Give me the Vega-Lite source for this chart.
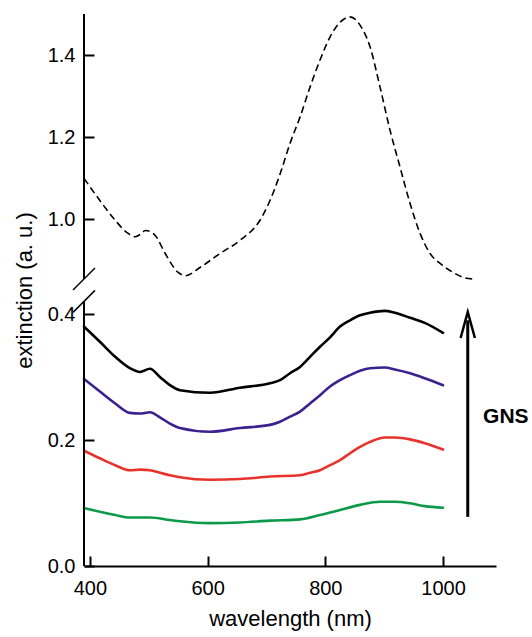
{
  "$schema": "https://vega.github.io/schema/vega-lite/v6.json",
  "autosize": {"type": "none"},
  "padding": {"left": 84, "top": 14, "right": 36, "bottom": 71},
  "width": 412,
  "height": 552,
  "config": {"view": {"stroke": null}, "font": "Liberation Sans"},
  "datasets": {
    "spectra": [
      {"series": "ref", "wl": 390, "ext": 1.10},
      {"series": "ref", "wl": 417, "ext": 1.046},
      {"series": "ref", "wl": 443, "ext": 0.998},
      {"series": "ref", "wl": 463, "ext": 0.968},
      {"series": "ref", "wl": 477, "ext": 0.958},
      {"series": "ref", "wl": 487, "ext": 0.965},
      {"series": "ref", "wl": 494, "ext": 0.973},
      {"series": "ref", "wl": 503, "ext": 0.970},
      {"series": "ref", "wl": 511, "ext": 0.961},
      {"series": "ref", "wl": 528, "ext": 0.917},
      {"series": "ref", "wl": 550, "ext": 0.871},
      {"series": "ref", "wl": 562, "ext": 0.863},
      {"series": "ref", "wl": 587, "ext": 0.883},
      {"series": "ref", "wl": 621, "ext": 0.917},
      {"series": "ref", "wl": 655, "ext": 0.949},
      {"series": "ref", "wl": 689, "ext": 0.998},
      {"series": "ref", "wl": 706, "ext": 1.046},
      {"series": "ref", "wl": 723, "ext": 1.11},
      {"series": "ref", "wl": 740, "ext": 1.185},
      {"series": "ref", "wl": 757, "ext": 1.249},
      {"series": "ref", "wl": 774, "ext": 1.322},
      {"series": "ref", "wl": 791, "ext": 1.388},
      {"series": "ref", "wl": 808, "ext": 1.444},
      {"series": "ref", "wl": 825, "ext": 1.48},
      {"series": "ref", "wl": 842, "ext": 1.493},
      {"series": "ref", "wl": 859, "ext": 1.473},
      {"series": "ref", "wl": 876, "ext": 1.42},
      {"series": "ref", "wl": 893, "ext": 1.322},
      {"series": "ref", "wl": 910, "ext": 1.217},
      {"series": "ref", "wl": 927, "ext": 1.127},
      {"series": "ref", "wl": 944, "ext": 1.039},
      {"series": "ref", "wl": 961, "ext": 0.966},
      {"series": "ref", "wl": 978, "ext": 0.917},
      {"series": "ref", "wl": 995, "ext": 0.893},
      {"series": "ref", "wl": 1017, "ext": 0.871},
      {"series": "ref", "wl": 1034, "ext": 0.859},
      {"series": "ref", "wl": 1051, "ext": 0.854},

      {"series": "black", "wl": 390, "ext": 0.380},
      {"series": "black", "wl": 417, "ext": 0.356},
      {"series": "black", "wl": 443, "ext": 0.332},
      {"series": "black", "wl": 468, "ext": 0.314},
      {"series": "black", "wl": 485, "ext": 0.308},
      {"series": "black", "wl": 502, "ext": 0.313},
      {"series": "black", "wl": 519, "ext": 0.300},
      {"series": "black", "wl": 536, "ext": 0.287},
      {"series": "black", "wl": 553, "ext": 0.279},
      {"series": "black", "wl": 604, "ext": 0.275},
      {"series": "black", "wl": 655, "ext": 0.283},
      {"series": "black", "wl": 706, "ext": 0.290},
      {"series": "black", "wl": 723, "ext": 0.295},
      {"series": "black", "wl": 740, "ext": 0.306},
      {"series": "black", "wl": 757, "ext": 0.316},
      {"series": "black", "wl": 774, "ext": 0.332},
      {"series": "black", "wl": 791, "ext": 0.348},
      {"series": "black", "wl": 808, "ext": 0.363},
      {"series": "black", "wl": 825, "ext": 0.380},
      {"series": "black", "wl": 842, "ext": 0.390},
      {"series": "black", "wl": 859, "ext": 0.398},
      {"series": "black", "wl": 876, "ext": 0.402},
      {"series": "black", "wl": 901, "ext": 0.405},
      {"series": "black", "wl": 918, "ext": 0.402},
      {"series": "black", "wl": 944, "ext": 0.394},
      {"series": "black", "wl": 969, "ext": 0.386},
      {"series": "black", "wl": 1000, "ext": 0.370},

      {"series": "purple", "wl": 390, "ext": 0.297},
      {"series": "purple", "wl": 417, "ext": 0.277},
      {"series": "purple", "wl": 443, "ext": 0.258},
      {"series": "purple", "wl": 468, "ext": 0.243},
      {"series": "purple", "wl": 485, "ext": 0.242},
      {"series": "purple", "wl": 502, "ext": 0.244},
      {"series": "purple", "wl": 519, "ext": 0.236},
      {"series": "purple", "wl": 536, "ext": 0.226},
      {"series": "purple", "wl": 553, "ext": 0.219},
      {"series": "purple", "wl": 604, "ext": 0.213},
      {"series": "purple", "wl": 655, "ext": 0.219},
      {"series": "purple", "wl": 706, "ext": 0.224},
      {"series": "purple", "wl": 723, "ext": 0.229},
      {"series": "purple", "wl": 740, "ext": 0.237},
      {"series": "purple", "wl": 757, "ext": 0.245},
      {"series": "purple", "wl": 774, "ext": 0.258},
      {"series": "purple", "wl": 791, "ext": 0.271},
      {"series": "purple", "wl": 808, "ext": 0.285},
      {"series": "purple", "wl": 825, "ext": 0.295},
      {"series": "purple", "wl": 842, "ext": 0.303},
      {"series": "purple", "wl": 859, "ext": 0.310},
      {"series": "purple", "wl": 876, "ext": 0.314},
      {"series": "purple", "wl": 901, "ext": 0.315},
      {"series": "purple", "wl": 918, "ext": 0.312},
      {"series": "purple", "wl": 944, "ext": 0.306},
      {"series": "purple", "wl": 969, "ext": 0.298},
      {"series": "purple", "wl": 1000, "ext": 0.287},

      {"series": "red", "wl": 390, "ext": 0.183},
      {"series": "red", "wl": 417, "ext": 0.171},
      {"series": "red", "wl": 443, "ext": 0.160},
      {"series": "red", "wl": 468, "ext": 0.152},
      {"series": "red", "wl": 485, "ext": 0.153},
      {"series": "red", "wl": 502, "ext": 0.152},
      {"series": "red", "wl": 519, "ext": 0.148},
      {"series": "red", "wl": 536, "ext": 0.144},
      {"series": "red", "wl": 553, "ext": 0.141},
      {"series": "red", "wl": 604, "ext": 0.137},
      {"series": "red", "wl": 655, "ext": 0.138},
      {"series": "red", "wl": 706, "ext": 0.142},
      {"series": "red", "wl": 757, "ext": 0.144},
      {"series": "red", "wl": 774, "ext": 0.148},
      {"series": "red", "wl": 791, "ext": 0.152},
      {"series": "red", "wl": 808, "ext": 0.160},
      {"series": "red", "wl": 825, "ext": 0.168},
      {"series": "red", "wl": 842, "ext": 0.179},
      {"series": "red", "wl": 859, "ext": 0.189},
      {"series": "red", "wl": 876, "ext": 0.197},
      {"series": "red", "wl": 901, "ext": 0.204},
      {"series": "red", "wl": 918, "ext": 0.204},
      {"series": "red", "wl": 944, "ext": 0.201},
      {"series": "red", "wl": 969, "ext": 0.195},
      {"series": "red", "wl": 1000, "ext": 0.185},

      {"series": "green", "wl": 390, "ext": 0.092},
      {"series": "green", "wl": 417, "ext": 0.086},
      {"series": "green", "wl": 443, "ext": 0.081},
      {"series": "green", "wl": 468, "ext": 0.077},
      {"series": "green", "wl": 502, "ext": 0.077},
      {"series": "green", "wl": 536, "ext": 0.073},
      {"series": "green", "wl": 553, "ext": 0.071},
      {"series": "green", "wl": 604, "ext": 0.068},
      {"series": "green", "wl": 655, "ext": 0.069},
      {"series": "green", "wl": 706, "ext": 0.072},
      {"series": "green", "wl": 757, "ext": 0.074},
      {"series": "green", "wl": 791, "ext": 0.081},
      {"series": "green", "wl": 825, "ext": 0.089},
      {"series": "green", "wl": 859, "ext": 0.097},
      {"series": "green", "wl": 893, "ext": 0.102},
      {"series": "green", "wl": 918, "ext": 0.102},
      {"series": "green", "wl": 944, "ext": 0.0995},
      {"series": "green", "wl": 969, "ext": 0.095},
      {"series": "green", "wl": 1000, "ext": 0.0925}
    ]
  },
  "data": {"name": "spectra"},
  "layer": [
    {
      "transform": [{"filter": "datum.series !== 'ref'"}],
      "mark": {"type": "line", "interpolate": "monotone", "strokeCap": "round", "strokeJoin": "round"},
      "encoding": {
        "x": {
          "field": "wl", "type": "quantitative",
          "scale": {"domain": [390, 1090], "nice": false, "zero": false},
          "axis": {
            "title": "wavelength (nm)", "values": [400, 600, 800, 1000], "format": "d",
            "tickSize": -10, "tickWidth": 2, "tickColor": "black",
            "domainColor": "black", "domainWidth": 2,
            "labelFontSize": 20, "labelColor": "black", "labelPadding": 22,
            "titleFontSize": 22, "titleFontWeight": "normal", "titleColor": "black", "titlePadding": 10,
            "grid": false
          }
        },
        "y": {
          "field": "ext", "type": "quantitative",
          "scale": {"domain": [0, 0.42, 0.855, 1.5], "range": [552, 287.4, 265, 0], "nice": false, "zero": false},
          "axis": {
            "title": "extinction (a. u.)", "values": [0, 0.2, 0.4, 1.0, 1.2, 1.4], "format": ".1f",
            "domain": false,
            "tickSize": -10, "tickWidth": 2, "tickColor": "black",
            "labelFontSize": 20, "labelColor": "black", "labelPadding": 19,
            "titleFontSize": 22, "titleFontWeight": "normal", "titleColor": "black",
            "titleAngle": 270, "titleX": -60, "titleY": 276, "titleAlign": "center", "titleBaseline": "middle",
            "grid": false
          }
        },
        "color": {
          "field": "series", "type": "nominal",
          "scale": {"domain": ["green", "red", "purple", "black"], "range": ["#0c9a4a", "#e8332c", "#3b2190", "#000000"]},
          "legend": null
        },
        "strokeWidth": {
          "field": "series", "type": "nominal",
          "scale": {"domain": ["green", "red", "purple", "black"], "range": [2.6, 2.6, 2.8, 3.4]},
          "legend": null
        }
      }
    },
    {
      "transform": [{"filter": "datum.series === 'ref'"}],
      "mark": {"type": "line", "interpolate": "monotone", "color": "black", "strokeWidth": 1.6, "strokeDash": [7, 4]},
      "encoding": {
        "x": {"field": "wl", "type": "quantitative"},
        "y": {"field": "ext", "type": "quantitative"}
      }
    },
    {
      "data": {"values": [{}]},
      "mark": {"type": "rule", "color": "black", "strokeWidth": 2},
      "encoding": {"x": {"datum": 390}, "y": {"datum": 0}, "y2": {"datum": 0.42}}
    },
    {
      "data": {"values": [{}]},
      "mark": {"type": "rule", "color": "black", "strokeWidth": 2},
      "encoding": {"x": {"datum": 390}, "y": {"datum": 0.855}, "y2": {"datum": 1.5}}
    },
    {
      "data": {"values": [{}]},
      "mark": {"type": "point", "shape": "M-1,1L1,-1", "size": 484, "stroke": "black", "strokeWidth": 1.5, "filled": false, "opacity": 1},
      "encoding": {"x": {"datum": 390}, "y": {"datum": 0.855}}
    },
    {
      "data": {"values": [{}]},
      "mark": {"type": "point", "shape": "M-1,1L1,-1", "size": 484, "stroke": "black", "strokeWidth": 1.5, "filled": false, "opacity": 1},
      "encoding": {"x": {"datum": 390}, "y": {"datum": 0.42}}
    },
    {
      "data": {"values": [{}]},
      "mark": {"type": "rule", "color": "black", "strokeWidth": 3},
      "encoding": {"x": {"datum": 1042}, "y": {"datum": 0.078}, "y2": {"datum": 0.39}}
    },
    {
      "data": {"values": [{}]},
      "mark": {"type": "point", "shape": "M-0.55,1L0,-1L0.55,1", "size": 676, "stroke": "black", "strokeWidth": 2.5, "filled": false, "opacity": 1},
      "encoding": {"x": {"datum": 1042}, "y": {"datum": 0.3825}}
    },
    {
      "data": {"values": [{"label": "GNS"}]},
      "mark": {"type": "text", "align": "left", "baseline": "middle", "fontSize": 21, "fontWeight": "bold", "color": "black"},
      "encoding": {"x": {"datum": 1068}, "y": {"datum": 0.2365}, "text": {"field": "label"}}
    }
  ]
}
